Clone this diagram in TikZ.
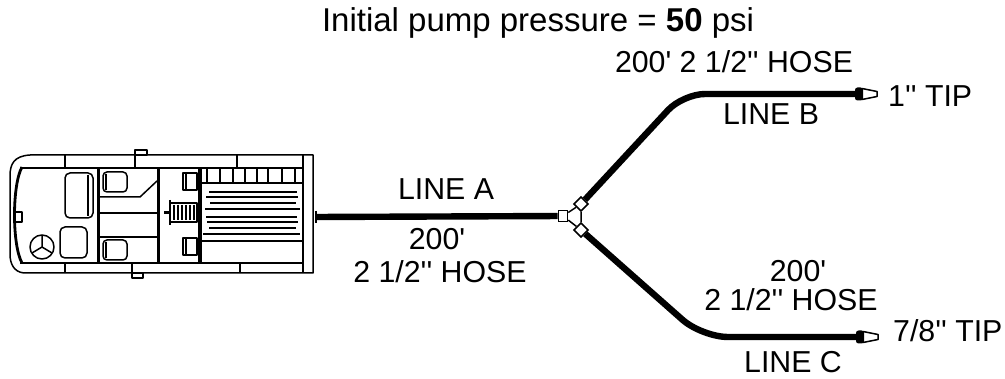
\documentclass[tikz,border=0pt]{standalone}
\usepackage{fontspec}
\setmainfont{Liberation Sans}[Ligatures=TeXOff]
\begin{document}
\begin{tikzpicture}[x=1pt,y=-1pt,
  tl/.style={line width=1.5pt, line join=round},
  tk/.style={line width=2.8pt},
  hose/.style={line width=6.4pt, line cap=butt, line join=round},
  lab/.style={font=\fontsize{30.3}{34}\selectfont, inner sep=0pt, anchor=base},
  coup/.style={draw, fill=white, line width=1.6pt, minimum size=10pt, inner sep=0pt},
  nozfill/.style={line width=1.5pt, fill=white, line join=round}]
\useasboundingbox (0,0) rectangle (1005,379);

% ---------- title ----------
\node[font=\fontsize{33}{38}\selectfont, anchor=base, inner sep=0pt] (title) at (538,32) {Initial pump pressure = \textbf{50} psi};

% ---------- truck (top view) ----------
\draw[tl] (30,155) -- (313,155) -- (313,273) -- (24,273) .. controls (14,272) and (10,264) .. (10,254) -- (10,176) .. controls (10,164) and (14,156) .. (30,155);
\draw[tk] (22,167) .. controls (12,185) and (12,245) .. (22,263);
\draw[tk] (20,168) -- (303,168);
\draw[tk] (20,263) -- (303,263);
\draw[tk] (303,155) -- (303,273);
\draw[tl] (65,155)--(65,168) (135,155)--(135,168) (237,155)--(237,168)
          (65,263)--(65,273) (132,263)--(132,273) (240,263)--(240,273);
\draw[tl, fill=white] (135,150) rectangle (147,155);
\draw[tl, fill=white] (132,273) rectangle (143,278);
\draw[tl] (15,212) -- (22,212) -- (22,222) -- (15,222);
% cab
\draw[line width=3.2pt] (98.5,168) -- (98.5,263);
\draw[tl, rounded corners=5pt] (65,173) rectangle (93,218);
\draw[tl] (88,175) -- (88,216);
\draw[tl, rounded corners=5pt] (60,227) rectangle (87,258);
\draw[tl] (42,247) circle (12);
\draw[tl] (42,247) -- (42,235) (42,247) -- (32,253) (42,247) -- (52,253);
% crew area
\draw[tl, rounded corners=4pt] (103,172) rectangle (127,192);
\draw[tl] (106,174) -- (106,190);
\draw[tl, rounded corners=4pt] (103,240) rectangle (127,260);
\draw[tl] (106,242) -- (106,258);
\draw[tl] (100,197) -- (140,197) -- (157,181);
\draw[tl] (100,213) -- (157,213);
\draw[tl] (100,237) -- (157,237);
\draw[line width=3.2pt] (158.5,168) -- (158.5,263);
% pump panel
\draw[tl] (183,173) rectangle (197,190);
\draw[tl] (186,173) -- (186,190);
\draw[tl] (183,238) rectangle (197,255);
\draw[tl] (186,238) -- (186,255);
\draw[line width=2.8pt] (170,200) -- (170,225);
\draw[tl] (170,203) rectangle (197,222);
\foreach \x in {174,178,182,186,190,194} \draw[line width=1.4pt] (\x,205) -- (\x,220);
\draw[line width=2.4pt] (164,212.5) -- (170,212.5);
\draw[line width=3.2pt] (200,168) -- (200,263);
% hose bed
\draw[tk] (202,183) -- (302,183);
\foreach \x in {207,220,233,245,257,268,282,295} \draw[tl] (\x,168) -- (\x,183);
\foreach \y/\a/\b in {192/209/297, 197/206/298, 203/210/296, 209/205/300, 217/206/297, 222/207/298, 228/209/296, 234/203/300}
  \draw[tl] (\a,\y) -- (\b,\y);
\draw[tl] (202,241) -- (302,241);
% outlet
\draw[line width=2.4pt] (316,211) -- (316,223);
\coordinate (truck) at (316,217);

% ---------- wye fitting ----------
\node[coup, minimum width=9pt, minimum height=11pt] (cA) at (563,216) {};
\node[coup, rotate=-45] (cB) at (581,204) {};
\node[coup, rotate=45] (cC) at (581,230) {};
\draw[tl] (cA) -- (cB) -- (cC) -- (cA);

% ---------- nozzles ----------
\coordinate (nozB) at (856,94);
\coordinate (nozC) at (857,337);

% ---------- hoses ----------
\draw[hose] (truck) -- (cA);
\draw[hose, rounded corners=22pt] (cB) -- (683,94) -- (nozB);
\draw[hose, rounded corners=26pt] (cC) -- (702,337) -- (nozC);

\foreach \n in {nozB,nozC}{
  \draw[nozfill] ([shift={(6,-5.5)}]\n) -- ([shift={(21,-2.5)}]\n) -- ([shift={(21,2.5)}]\n) -- ([shift={(6,5.5)}]\n) -- cycle;
  \fill[rounded corners=2.5pt] ([shift={(-1,-6.5)}]\n) rectangle ([shift={(7,6.5)}]\n);
}

% ---------- labels ----------
\node[lab] (la)  at (446,200) {LINE A};
\node[lab] (la1) at (437,250) {200'};
\node[lab] (la2) at (440,283) {2 1/2'' HOSE};
\node[lab] (lb1) at (734,73)  {200' 2 1/2'' HOSE};
\node[lab] (lb)  at (771,125) {LINE B};
\node[lab, anchor=base west] (tb) at (888,107) {1'' TIP};
\node[lab] (lc1) at (798,282) {200'};
\node[lab] (lc2) at (791,311) {2 1/2'' HOSE};
\node[lab] (lc)  at (793,373) {LINE C};
\node[lab, anchor=base west] (tc) at (893,342) {7/8'' TIP};
\end{tikzpicture}
\end{document}
